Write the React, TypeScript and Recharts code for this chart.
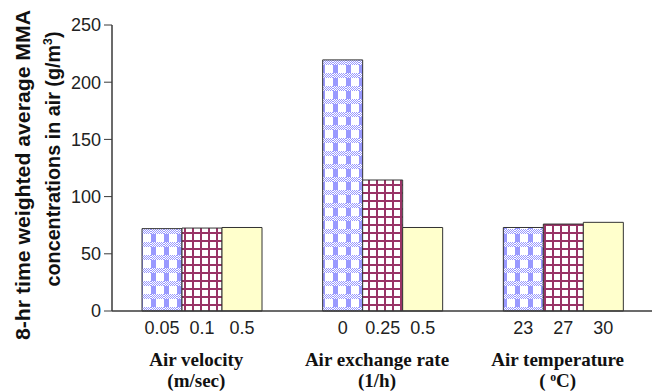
import React from "react";
import { BarChart, Bar, XAxis, YAxis, LabelList } from "recharts";

// groups along the x axis
const groups = ["Air velocity", "Air exchange rate", "Air temperature"];
const groupUnits = ["(m/sec)", "(1/h)", "( ^o^C)"];

// bar values (g/m3), one array per bar position inside a group
const lowValues = [72, 219.5, 73];
const midValues = [72.5, 114.5, 76];
const highValues = [73, 73, 77.5];

// labels written under each bar
const lowLabels = ["0.05", "0", "23"];
const midLabels = ["0.1", "0.25", "27"];
const highLabels = ["0.5", "0.5", "30"];

const yTicks = [0, 50, 100, 150, 200, 250];
const yLabelLines = ["8-hr time weighted average MMA", "concentrations in air (g/m^3^)"];

const data = groups.map((g, i) => ({
  group: g,
  low: lowValues[i],
  mid: midValues[i],
  high: highValues[i],
  lowLabel: lowLabels[i],
  midLabel: midLabels[i],
  highLabel: highLabels[i],
}));

const AXIS = "#3a3a3a";
const SANS = '"Liberation Sans", Arial, sans-serif';
const SERIF = '"Liberation Serif", "Times New Roman", serif';

// "^x^" marks a superscript
const withSup = (s: string, size: number, rise = 0.42) =>
  s.split("^").map((part, i) =>
    i % 2 ? (
      <tspan key={i} fontSize={size * 0.62} dy={-size * rise}>
        {part}
      </tspan>
    ) : (
      <tspan key={i} dy={i ? size * rise : 0}>
        {part}
      </tspan>
    )
  );

const GroupTick = (props: any) => {
  const { x, y, payload } = props;
  const unit = groupUnits[payload.index] ?? "";
  return (
    <g fontFamily={SERIF} fontWeight="bold" fontSize={19} fill="#111">
      <text x={x - 6} y={y + 55} textAnchor="middle">
        {payload.value}
      </text>
      <text x={x - 6} y={y + 76} textAnchor="middle">
        {withSup(unit, 19, 0.3)}
      </text>
    </g>
  );
};

const SubLabel = (props: any) => {
  const { x, y, width, height, value } = props;
  return (
    <text
      x={x + width / 2}
      y={y + height + 23}
      textAnchor="middle"
      fontFamily={SANS}
      fontSize={18}
      fill="#222"
    >
      {value}
    </text>
  );
};

const YLabel = () => (
  <g fontFamily={SANS} fontWeight="bold" fontSize={20} fill="#111">
    <text
      transform="translate(22,167) rotate(-90)"
      textAnchor="middle"
      textLength={330}
      lengthAdjust="spacingAndGlyphs"
    >
      {yLabelLines[0]}
    </text>
    <text
      transform="translate(52,151) rotate(-90)"
      textAnchor="middle"
      textLength={255}
      lengthAdjust="spacingAndGlyphs"
    >
      {withSup(yLabelLines[1], 20)}
    </text>
  </g>
);

export default function App() {
  return (
    <div style={{ width: 652, height: 384 }}>
      {/* fill patterns for the bars */}
      <svg width={0} height={0} style={{ position: "absolute" }}>
        <defs>
          <pattern id="dither" width="2" height="2" patternUnits="userSpaceOnUse">
            <rect width="2" height="2" fill="#fff" />
            <rect width="1" height="1" fill="#9999FF" />
            <rect x="1" y="1" width="1" height="1" fill="#9999FF" />
          </pattern>
          <pattern id="gingham" width="13" height="13" patternUnits="userSpaceOnUse">
            <rect width="13" height="13" fill="#fff" />
            <rect width="5" height="13" fill="#9999FF" />
            <rect width="13" height="5" fill="url(#dither)" />
          </pattern>
          <pattern id="grid" width="8" height="8" patternUnits="userSpaceOnUse">
            <rect width="8" height="8" fill="#fff" />
            <rect width="8" height="2" fill="#993366" />
            <rect width="2" height="8" fill="#993366" />
          </pattern>
        </defs>
      </svg>

      <BarChart
        width={652}
        height={384}
        data={data}
        margin={{ top: 17, right: 6, bottom: 11, left: 44 }}
        barGap={0}
        barSize={40}
      >
        <XAxis
          dataKey="group"
          height={70}
          tickLine={false}
          tickSize={0}
          tickMargin={0}
          axisLine={{ stroke: AXIS, strokeWidth: 1.5 }}
          tick={<GroupTick />}
          interval={0}
        />
        <XAxis
          xAxisId="top"
          orientation="top"
          dataKey="group"
          height={0}
          tick={false}
          tickLine={false}
          axisLine={{ stroke: AXIS, strokeWidth: 1.5 }}
        />
        <YAxis
          width={60}
          domain={[0, 250]}
          ticks={yTicks}
          tickSize={8}
          tickMargin={3}
          tickLine={{ stroke: AXIS }}
          axisLine={{ stroke: AXIS, strokeWidth: 1.5 }}
          tick={{ fontFamily: SANS, fontSize: 18, fill: "#222" }}
          label={{ content: () => <YLabel /> }}
        />
        <YAxis
          yAxisId="right"
          orientation="right"
          width={0}
          tick={false}
          tickLine={false}
          axisLine={{ stroke: AXIS, strokeWidth: 1.5 }}
        />
        <Bar dataKey="low" fill="url(#gingham)" stroke="#333" strokeWidth={1} isAnimationActive={false}>
          <LabelList dataKey="lowLabel" content={SubLabel} />
        </Bar>
        <Bar dataKey="mid" fill="url(#grid)" stroke="#333" strokeWidth={1} isAnimationActive={false}>
          <LabelList dataKey="midLabel" content={SubLabel} />
        </Bar>
        <Bar dataKey="high" fill="#FFFFCC" stroke="#333" strokeWidth={1} isAnimationActive={false}>
          <LabelList dataKey="highLabel" content={SubLabel} />
        </Bar>
      </BarChart>
    </div>
  );
}
